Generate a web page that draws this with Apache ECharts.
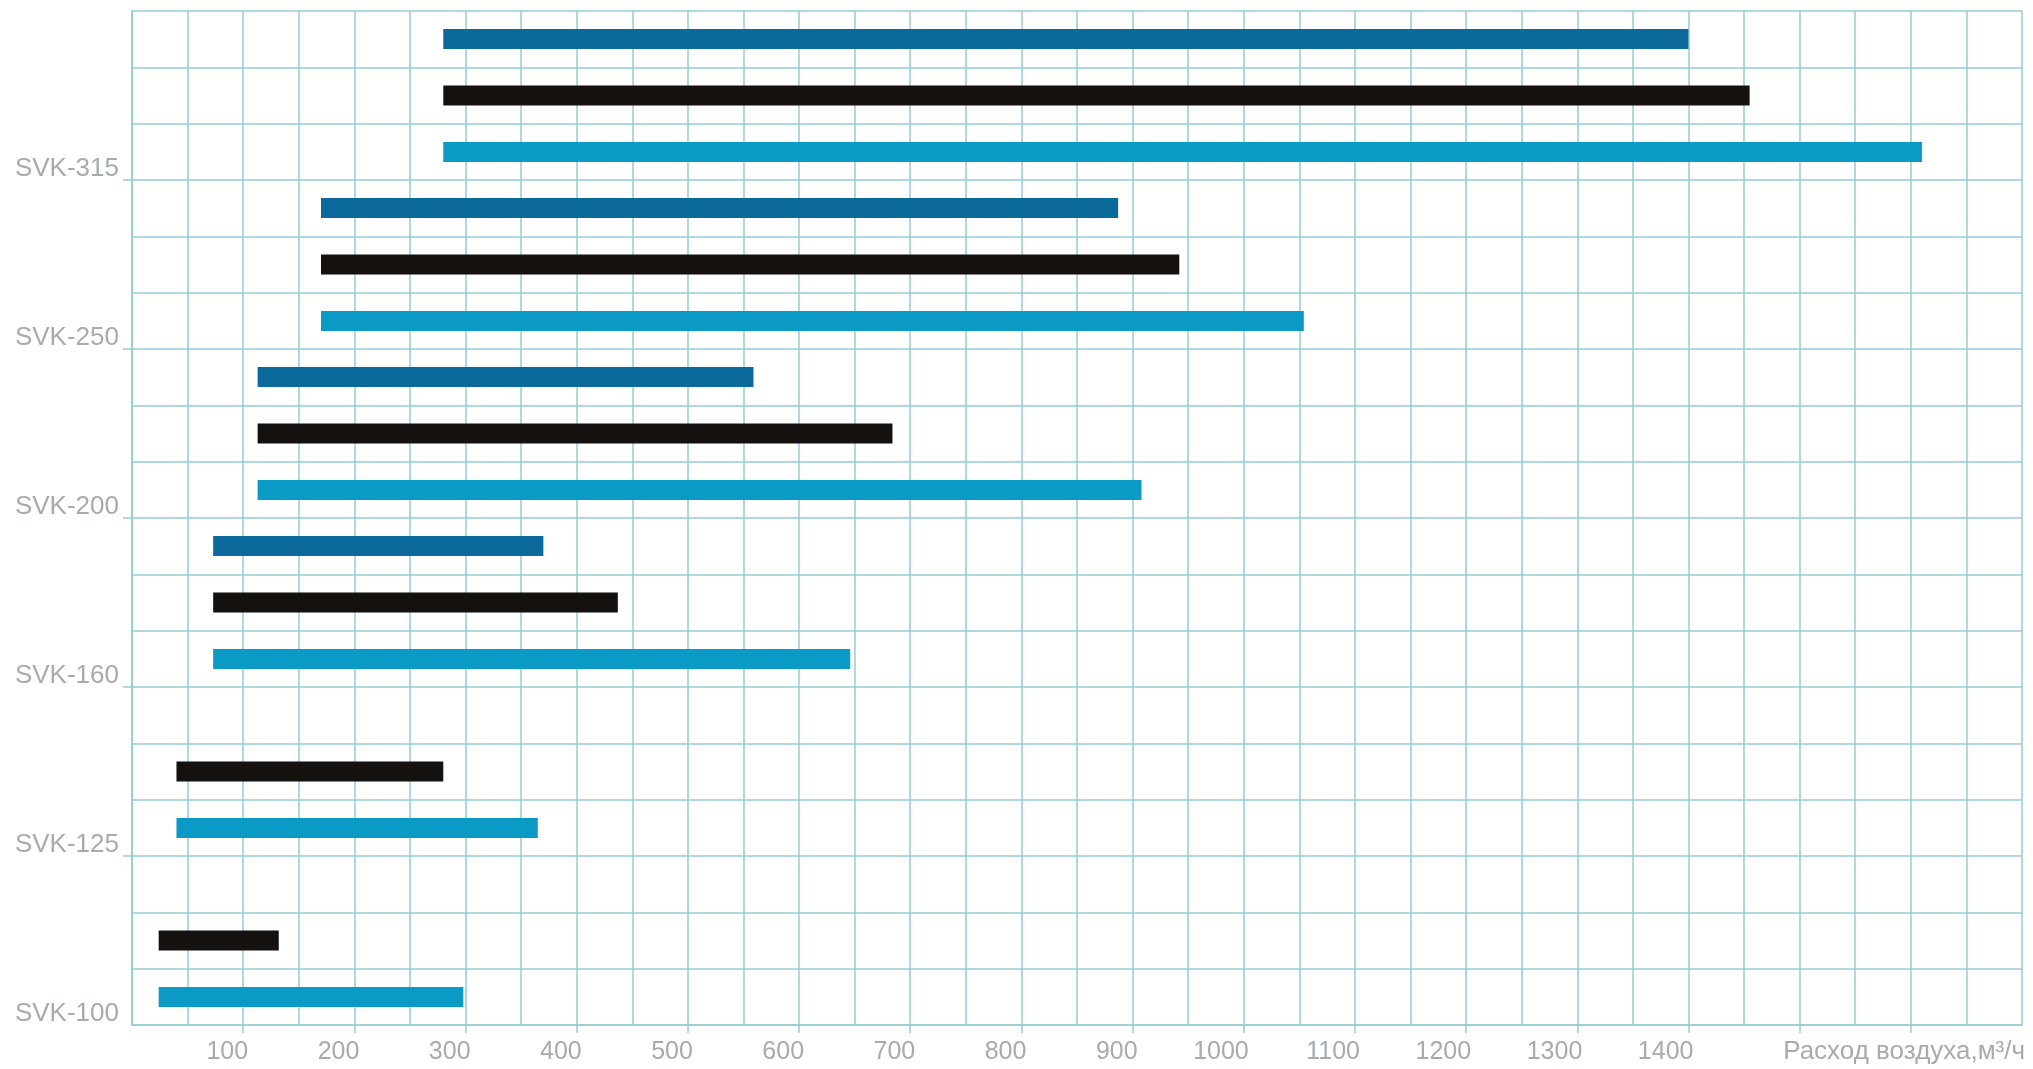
<!DOCTYPE html>
<html>
<head>
<meta charset="utf-8">
<script src="https://cdn.jsdelivr.net/npm/echarts@6/dist/echarts.min.js"></script>
<style>
  html, body { margin: 0; padding: 0; background: #ffffff; }
  #chart { width: 2033px; height: 1069px; }
</style>
</head>
<body>
<div id="chart"></div>
<script>
// Models from bottom to top
const models = ['SVK-100', 'SVK-125', 'SVK-160', 'SVK-200', 'SVK-250', 'SVK-315'];
// Start of the air-flow range (m3/h), shared by all three bars of a model
const rangeStart = [24, 40, 73, 113, 170, 280];
// End of range for each bar colour ('-' = no bar)
const darkEnd  = ['-', '-', 370, 559, 887, 1400];
const blackEnd = [132, 280, 437, 684, 942, 1455];
const lightEnd = [298, 365, 646, 908, 1054, 1610];
// X tick labels
const xTickValues = [100, 200, 300, 400, 500, 600, 700, 800, 900, 1000, 1100, 1200, 1300, 1400];
const xTickMarks = [100, 200, 300, 400, 500, 600, 700, 800, 900, 1000, 1100, 1200, 1300, 1400, 1500, 1600];
const xAxisName = 'Расход воздуха,м³/ч';

const gridColor = '#95cbd8';
const textColor = '#a6abaf';
const fontFamily = '"Liberation Sans", Arial, Helvetica, sans-serif';

function lengths(ends) {
  return ends.map((e, i) => (e === '-' ? '-' : e - rangeStart[i]));
}
function bases(ends) {
  return ends.map((e, i) => (e === '-' ? '-' : rangeStart[i]));
}

const barW = 20;
const barGap = '182%';

function pair(name, ends, color, stack) {
  return [
    {
      type: 'bar', name: name + '-base', stack: stack,
      xAxisIndex: 0, yAxisIndex: 2,
      data: bases(ends), barWidth: barW, barGap: barGap,
      itemStyle: { color: 'rgba(0,0,0,0)' }, silent: true
    },
    {
      type: 'bar', name: name, stack: stack,
      xAxisIndex: 0, yAxisIndex: 2,
      data: lengths(ends), barWidth: barW, barGap: barGap,
      itemStyle: { color: color }
    }
  ];
}

const chart = echarts.init(document.getElementById('chart'), null, { renderer: 'canvas' });
chart.setOption({
  animation: false,
  backgroundColor: '#ffffff',
  grid: { left: 132, top: 11, width: 1890, height: 1014, containLabel: false, outerBoundsMode: 'none' },
  xAxis: [
    {
      type: 'value', min: 0, max: 1700, interval: 50, position: 'bottom',
      axisLine: { show: true, lineStyle: { color: gridColor, width: 1.5 } },
      axisTick: { show: false }, axisLabel: { show: false },
      splitLine: { show: true, lineStyle: { color: gridColor, width: 1.5 } }
    },
    {
      type: 'value', min: 0, max: 1700, interval: 100, position: 'bottom',
      axisLine: { show: false },
      splitLine: { show: false },
      axisTick: { show: true, length: 8, customValues: xTickMarks, lineStyle: { color: gridColor, width: 1.5 } },
      axisLabel: {
        show: true, customValues: xTickValues, margin: 15,
        color: textColor, fontSize: 25, fontFamily: fontFamily,
        align: 'right', padding: [0, -5, 0, 0],
        formatter: function (v) { return String(v); }
      },
      name: xAxisName, nameLocation: 'end', nameGap: 0,
      nameTextStyle: {
        color: textColor, fontSize: 26, fontFamily: fontFamily,
        align: 'right', verticalAlign: 'top', padding: [14, -3, 0, 0]
      }
    }
  ],
  yAxis: [
    {
      type: 'value', min: 0, max: 18, interval: 1, position: 'left',
      axisLine: { show: true, lineStyle: { color: gridColor, width: 1.5 } },
      axisTick: { show: false }, axisLabel: { show: false },
      splitLine: { show: true, lineStyle: { color: gridColor, width: 1.5 } }
    },
    {
      type: 'value', min: 0, max: 18, interval: 3, position: 'left',
      axisLine: { show: false }, splitLine: { show: false },
      axisTick: { show: true, length: 9, customValues: [3, 6, 9, 12, 15], lineStyle: { color: gridColor, width: 1.5 } },
      axisLabel: {
        show: true, customValues: [0, 3, 6, 9, 12, 15], margin: 13,
        color: textColor, fontSize: 26, fontFamily: fontFamily,
        verticalAlign: 'bottom', lineHeight: 22,
        formatter: function (v) { return models[Math.round(v / 3)] || ''; }
      }
    },
    {
      type: 'category', data: models, position: 'left', show: false
    }
  ],
  series: [].concat(
    pair('dark', darkEnd, '#0b6a9b', 'd'),
    pair('black', blackEnd, '#15110f', 'b'),
    pair('light', lightEnd, '#0b9ac5', 'l')
  )
});
</script>
</body>
</html>
